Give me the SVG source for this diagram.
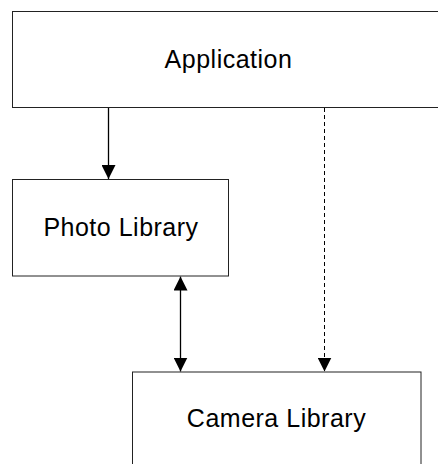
<svg xmlns="http://www.w3.org/2000/svg" width="438" height="464" viewBox="0 0 438 464">
  <style>
    .box { fill: #ffffff; stroke: #222222; stroke-width: 1; }
    .label { font-family: "Liberation Sans", Arial, sans-serif; font-size: 25px; letter-spacing: 0.5px; fill: #000000; text-anchor: middle; }
    .edge { stroke: #000000; stroke-width: 1.3; fill: none; }
    .dashed { stroke-dasharray: 4 3; stroke-width: 1; }
  </style>
  <defs>
    <marker id="arrow" viewBox="0 0 14 14" refX="14" refY="7" markerWidth="14" markerHeight="14" markerUnits="userSpaceOnUse" orient="auto-start-reverse">
      <path d="M0,0 L14,7 L0,14 Z" fill="#000000"/>
    </marker>
  </defs>
  <rect width="438" height="464" fill="#ffffff"/>

  <g id="connectors">
    <line class="edge" x1="108.5" y1="108" x2="108.5" y2="179" marker-end="url(#arrow)"/>
    <line class="edge" x1="180.5" y1="276.5" x2="180.5" y2="371.5" marker-start="url(#arrow)" marker-end="url(#arrow)"/>
    <line class="edge dashed" x1="324.5" y1="108" x2="324.5" y2="371.5" marker-end="url(#arrow)"/>
  </g>

  <g id="application">
    <rect class="box" x="12.5" y="11.5" width="432" height="96"/>
    <text class="label" x="228.5" y="67.5">Application</text>
  </g>

  <g id="photo-library">
    <rect class="box" x="12.5" y="179.5" width="216" height="96.5"/>
    <text class="label" x="121" y="235.5">Photo Library</text>
  </g>

  <g id="camera-library">
    <rect class="box" x="132.5" y="372" width="288.5" height="100"/>
    <text class="label" x="276.5" y="427">Camera Library</text>
  </g>
</svg>
